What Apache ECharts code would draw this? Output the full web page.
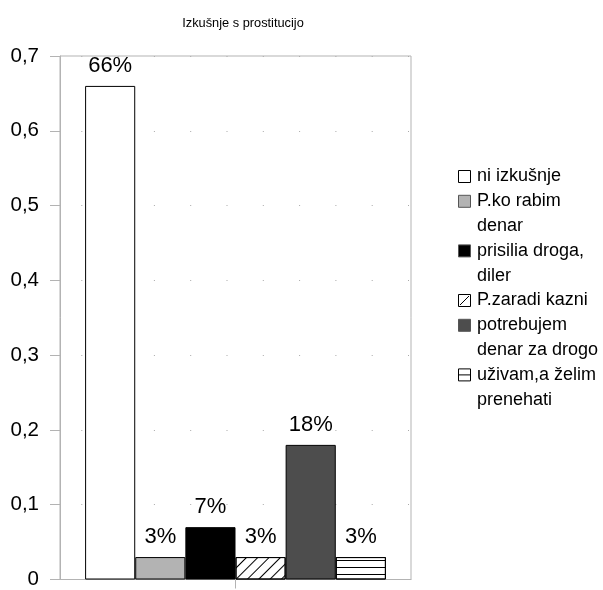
<!DOCTYPE html>
<html>
<head>
<meta charset="utf-8">
<script src="https://cdn.jsdelivr.net/npm/echarts@6/dist/echarts.min.js"></script>
<style>
  html, body { margin: 0; padding: 0; background: #fff; }
  #chart { width: 603px; height: 590px; }
</style>
</head>
<body>
<div id="chart"></div>
<script>
// Answers to "Izkušnje s prostitucijo" (share of respondents)
const titleText = 'Izkušnje s prostitucijo';
const seriesNames = [
  'ni izkušnje',
  'P.ko rabim\ndenar',
  'prisilia droga,\ndiler',
  'P.zaradi kazni',
  'potrebujem\ndenar za drogo',
  'uživam,a želim\nprenehati'
];
const seriesValues = [0.66, 0.03, 0.07, 0.03, 0.18, 0.03];
const yTicks = ['0', '0,1', '0,2', '0,3', '0,4', '0,5', '0,6', '0,7'];

const fills = ['#ffffff', '#b3b3b3', '#000000', '#ffffff', '#4d4d4d', '#ffffff'];
const decals = [
  null, null, null,
  { symbol: 'rect', color: '#000', dashArrayX: [1, 0], dashArrayY: [1, 7], rotation: -Math.PI / 4 },
  null,
  { symbol: 'rect', color: '#000', dashArrayX: [1, 0], dashArrayY: [1, 6], rotation: 0 }
];

const FONT = 'Liberation Sans, Arial, sans-serif';

const series = seriesNames.map((name, i) => {
  const s = {
    type: 'bar',
    name: name,
    data: [seriesValues[i]],
    barGap: '0%',
    barCategoryGap: '14.3%',
    itemStyle: { color: fills[i], borderColor: '#000', borderWidth: 1 },
    label: {
      show: true,
      position: 'top',
      distance: 9,
      color: '#000',
      fontFamily: FONT,
      fontSize: 22,
      formatter: p => Math.round(p.value * 100) + '%'
    }
  };
  if (decals[i]) s.itemStyle.decal = decals[i];
  return s;
});

// Legend drawn as a graphic group so the icon sits on each entry's first line
const legendX = 458, legendTop = 170, lineH = 24.8;
const legendChildren = [];
let y = legendTop;
seriesNames.forEach((name, i) => {
  const lines = name.split('\n').length;
  legendChildren.push({
    type: 'rect',
    shape: { x: legendX + 0.5, y: y + 0.5, width: 12, height: 12 },
    style: { fill: fills[i], stroke: i === 0 || i === 3 || i === 5 ? '#000' : '#555', lineWidth: 1 }
  });
  if (i === 3) {
    legendChildren.push({ type: 'line', shape: { x1: legendX + 2, y1: y + 11, x2: legendX + 11, y2: y + 2 }, style: { stroke: '#000', lineWidth: 1 } });
  }
  if (i === 5) {
    legendChildren.push({ type: 'line', shape: { x1: legendX + 0.5, y1: y + 6.5, x2: legendX + 12.5, y2: y + 6.5 }, style: { stroke: '#000', lineWidth: 1 } });
  }
  legendChildren.push({
    type: 'text',
    x: legendX + 19,
    y: y - 6,
    style: { text: name, fill: '#000', font: '18px ' + FONT, lineHeight: lineH }
  });
  y += lines * lineH;
});

const chart = echarts.init(document.getElementById('chart'), null, { renderer: 'canvas' });
chart.setOption({
  animation: false,
  backgroundColor: '#fff',
  aria: { enabled: false, decal: { show: true } },
  title: {
    text: titleText,
    left: 238,
    textAlign: 'center',
    top: 12,
    textStyle: { fontFamily: FONT, fontSize: 12.8, fontWeight: 'normal', color: '#000' }
  },
  grid: {
    left: 60, right: 192, top: 56, bottom: 8,
    show: true, borderColor: '#b3b3b3', borderWidth: 1, containLabel: false
  },
  xAxis: {
    type: 'category',
    data: [''],
    axisLine: { show: true, lineStyle: { color: '#b3b3b3' } },
    axisTick: { show: true, alignWithLabel: true, length: 9, lineStyle: { color: '#b3b3b3' } },
    axisLabel: { show: false }
  },
  yAxis: {
    type: 'value',
    min: 0, max: 0.7, interval: 0.1,
    axisLine: { show: true, lineStyle: { color: '#b3b3b3' } },
    axisTick: { show: true, length: 10, lineStyle: { color: '#b3b3b3' } },
    axisLabel: {
      margin: 21,
      color: '#000',
      fontFamily: FONT,
      fontSize: 20.5,
      padding: [4, 0, 0, 0],
      formatter: (v) => yTicks[Math.round(v * 10)]
    },
    splitLine: { show: true, lineStyle: { color: '#aaa', type: [1, 35.3], dashOffset: 15 } }
  },
  series: series,
  graphic: [{ type: 'group', children: legendChildren }]
});
</script>
</body>
</html>
